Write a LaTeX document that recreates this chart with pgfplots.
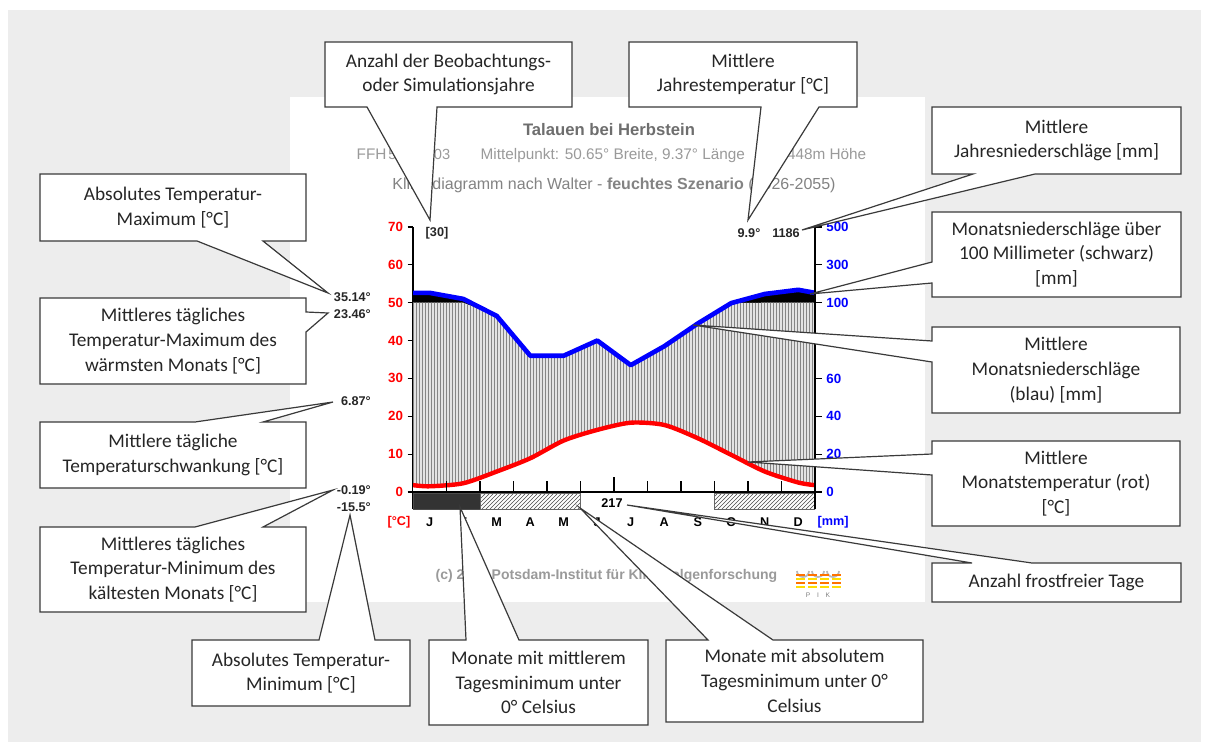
\documentclass[border=0pt]{standalone}
\usepackage{pgfplots}
\pgfplotsset{compat=1.18}
\usetikzlibrary{patterns}
\usepackage{pgfplotstable}
\usepackage{fontspec}
\setmainfont{Carlito}
\newfontfamily\arialfont{Liberation Sans}
\definecolor{bgray}{HTML}{EDEDED}
\definecolor{boxline}{HTML}{3A3A3A}
\definecolor{txt}{HTML}{262626}
\definecolor{ttl}{HTML}{6E6E6E}
\definecolor{sub}{HTML}{9A9A9A}
\pgfdeclarepatternformonly{vstripes}{\pgfpointorigin}{\pgfpoint{2.5pt}{2.5pt}}{\pgfpoint{2.5pt}{2.5pt}}{\pgfpathrectangle{\pgfpointorigin}{\pgfpoint{0.85pt}{2.5pt}}\pgfusepath{fill}}

% x: month position (0 = start of Jan, 12 = end of Dec), T: mean temperature [C], P: precipitation [mm]
\pgfplotstableread{
x T P
0 1.8 152
0.5 1.5 152
1.5 2.3 120
2.5 5.4 93
3.5 8.9 72
4.5 13.6 72
5.5 16.4 80
6.5 18.3 67
7.5 17.7 77
8.5 14.2 89
9.5 9.8 99.8
10.5 5.4 146
11.5 2.5 168
12 1.8 152
}\climate

\tikzset{
 callout/.style={fill=white, draw=boxline, line width=0.9pt, line join=miter},
 boxtxt/.style={align=center, text=txt, font=\fontsize{14.5}{18.5}\selectfont, inner sep=0pt},
 lab/.style={font=\arialfont\bfseries\fontsize{9.5}{10}\selectfont, text=black!85, inner sep=0pt},
}

\begin{document}
\begin{tikzpicture}[x=0.75pt,y=0.75pt]
\useasboundingbox (0,0) rectangle (1209,751);
\begin{scope}[yshift=563.25pt,y=-0.75pt]
 \fill[white] (0,0) rectangle (1209,751);
 \fill[bgray] (8,10) rectangle (1201,742);
 \fill[white] (290,97) rectangle (925,602);
 \node[font=\arialfont\bfseries\fontsize{12.5}{14}\selectfont, text=ttl] at (609,130) {Talauen bei Herbstein};
 \node[font=\arialfont\fontsize{11.5}{13}\selectfont, text=sub, anchor=base west] at (352,160) {FFH};
 \node[font=\arialfont\fontsize{11}{13}\selectfont, text=sub, anchor=base east] at (455,160) {5421-303};
 \node[font=\arialfont\fontsize{11.5}{13}\selectfont, text=sub, anchor=base west] at (476,160) {Mittelpunkt: 50.65° Breite, 9.37° Länge};
 \node[font=\arialfont\fontsize{11.5}{13}\selectfont, text=sub, anchor=base east] at (871,160) {448m Höhe};
 \node[font=\arialfont\fontsize{12}{13}\selectfont, text=sub!85!black] at (614,185) {Klimadiagramm nach Walter - \textbf{feuchtes Szenario} (2026-2055)};
 \node[font=\arialfont\bfseries\fontsize{10.5}{12}\selectfont, text=sub, anchor=west] at (431,576) {(c) 2012 Potsdam-Institut für Klimafolgenforschung};
 % logo
 \foreach \cx in {803,818,833} {\draw[gray!55, line width=1.3pt] (\cx-6,571) arc (180:0:6);}
 \foreach \yy/\cc in {575/orange!90!red,579/yellow!80!orange,583/orange!90!red,587/yellow!80!orange} {\draw[\cc, line width=1.8pt, dash pattern=on 7pt off 2pt] (796,\yy) -- (841,\yy);}
 \node[font=\arialfont\fontsize{5}{6}\selectfont, text=gray] at (818,595) {P\quad I\quad K};
\end{scope}

\begin{axis}[at={(309.75pt,181.5pt)}, anchor=south west, scale only axis, width=301.5pt, height=211.5pt,
 xmin=0, xmax=12, ymin=-4.5, ymax=70,
 axis x line=none, axis y line*=left, axis line style={black, line width=1pt, -},
 ytick={0,10,...,70}, tick align=outside, major tick length=4pt, tick style={black, line width=0.8pt},
 yticklabel style={font=\arialfont\bfseries\fontsize{10}{11}\selectfont, text=red},
 /pgf/number format/assume math mode=true]
% precipitation above 100 mm (black)
\addplot[fill=black, draw=none] table[x=x, y expr={min(\thisrow{P}/2, 50+(\thisrow{P}-100)/20)}]{\climate} \closedcycle;
% humid region (grey, hatched), capped at 100 mm
\addplot[fill=gray!22, draw=none] table[x=x, y expr={min(\thisrow{P}/2, 50)}]{\climate} \closedcycle;
\addplot[pattern=vstripes, pattern color=black!48, draw=none] table[x=x, y expr={min(\thisrow{P}/2, 50)}]{\climate} \closedcycle;
% below temperature curve: white
\addplot[fill=white, draw=none, smooth, tension=0.45] table[x=x,y=T]{\climate} \closedcycle;
\draw[black, line width=0.8pt] (axis cs:0,0) -- (axis cs:12,0);
\addplot[fill=black!80, draw=black!70] coordinates {(0,-0.4) (2,-0.4) (2,-4.5) (0,-4.5) (0,-0.4)};
\addplot[pattern=north east lines, pattern color=black!70, draw=black!60] coordinates {(2,-0.4) (5,-0.4) (5,-4.5) (2,-4.5) (2,-0.4)};
\addplot[pattern=north east lines, pattern color=black!70, draw=black!60] coordinates {(9,-0.4) (12,-0.4) (12,-4.5) (9,-4.5) (9,-0.4)};
\addplot[red, line width=3.3pt, smooth, tension=0.45] table[x=x,y=T]{\climate};
\addplot[blue, line width=3.5pt, line join=round] table[x=x, y expr={min(\thisrow{P}/2, 50+(\thisrow{P}-100)/20)}]{\climate};
\end{axis}

\begin{axis}[at={(309.75pt,181.5pt)}, anchor=south west, scale only axis, width=301.5pt, height=211.5pt,
 xmin=0, xmax=12, ymin=-4.5, ymax=70,
 axis x line=none, axis y line*=right, axis line style={black, line width=1pt, -},
 ytick={0,10,20,30,40,50,60,70}, yticklabels={0,20,40,60,80,100,300,500},
 tick align=outside, major tick length=5pt, tick style={black, line width=0.8pt},
 yticklabel style={font=\arialfont\bfseries\fontsize{10}{11}\selectfont, text=blue}]
\addplot[draw=none] coordinates {(0,0) (12,70)};
\end{axis}

\begin{scope}[yshift=563.25pt,y=-0.75pt]
 \foreach \i in {1,...,11} {\draw[black, line width=0.8pt] (413+33.5*\i,492) -- ++(0,-11);}
 \draw[black, line width=0.8pt] (413+33.5*6,492) -- ++(0,-15);
 \foreach \m [count=\i] in {J,F,M,A,M,J,J,A,S,O,N,D} {\node[lab, text=black] at (413+33.5*\i-16.75,522) {\m};}
 \node[lab, text=red] at (399,522) {[°C]};
 \node[lab, text=blue] at (833,522) {[mm]};
 \node[lab, text=black] at (612,503) {217};
 % callouts
 \draw[callout] (325,42) -- (572,42) -- (572,107) -- (437,107) -- (430,220) -- (367,107) -- (325,107) -- cycle;
 \node[boxtxt] at (448.5,74.5) {Anzahl der Beobachtungs-\\oder Simulationsjahre};
 \draw[callout] (629,42) -- (857,42) -- (857,107) -- (819,107) -- (748,220) -- (761,107) -- (629,107) -- cycle;
 \node[boxtxt] at (743,74.5) {Mittlere\\Jahrestemperatur [°C]};
 \draw[callout] (932,107) -- (1181,107) -- (1181,174) -- (1035,174) -- (802,230) -- (973,174) -- (932,174) -- cycle;
 \node[boxtxt] at (1056.5,140.5) {Mittlere\\Jahresniederschläge [mm]};
 \draw[callout] (932,212) -- (1181,212) -- (1181,297) -- (932,297) -- (932,283) -- (810,294) -- (932,262) -- cycle;
 \node[boxtxt] at (1056.5,254.5) {Monatsniederschläge über\\100 Millimeter (schwarz)\\{}[mm]};
 \draw[callout] (932,327) -- (1180,327) -- (1180,413) -- (932,413) -- (932,362) -- (693,325) -- (932,341) -- cycle;
 \node[boxtxt] at (1056,370) {Mittlere\\Monatsniederschläge\\(blau) [mm]};
 \draw[callout] (932,441) -- (1180,441) -- (1180,526) -- (932,526) -- (932,475) -- (748,462) -- (932,454) -- cycle;
 \node[boxtxt] at (1056,483.5) {Mittlere\\Monatstemperatur (rot)\\{}[°C]};
 \draw[callout] (932,563) -- (972,563) -- (627,505) -- (1032,563) -- (1181,563) -- (1181,602) -- (932,602) -- cycle;
 \node[boxtxt] at (1056.5,582.5) {Anzahl frostfreier Tage};
 \draw[callout] (666,640) -- (708,640) -- (580,508) -- (773,640) -- (923,640) -- (923,722) -- (666,722) -- cycle;
 \node[boxtxt] at (794.5,681) {Monate mit absolutem\\Tagesminimum unter 0°\\Celsius};
 \draw[callout] (429,640) -- (466,640) -- (460,507) -- (519,640) -- (648,640) -- (648,725) -- (429,725) -- cycle;
 \node[boxtxt] at (538.5,682.5) {Monate mit mittlerem\\Tagesminimum unter\\0° Celsius};
 \draw[callout] (192,640) -- (319,640) -- (350,515) -- (375,640) -- (410,640) -- (410,706) -- (192,706) -- cycle;
 \node[boxtxt] at (301,673) {Absolutes Temperatur-\\Minimum [°C]};
 \draw[callout] (40,527) -- (195,527) -- (333,490) -- (263,527) -- (306,527) -- (306,612) -- (40,612) -- cycle;
 \node[boxtxt] at (173,569.5) {Mittleres tägliches\\Temperatur-Minimum des\\kältesten Monats [°C]};
 \draw[callout] (40,422) -- (195,422) -- (333,402) -- (263,422) -- (306,422) -- (306,488) -- (40,488) -- cycle;
 \node[boxtxt] at (173,455) {Mittlere tägliche\\Temperaturschwankung [°C]};
 \draw[callout] (40,298) -- (306,298) -- (306,312) -- (328,313) -- (306,332) -- (306,384) -- (40,384) -- cycle;
 \node[boxtxt] at (173,341) {Mittleres tägliches\\Temperatur-Maximum des\\wärmsten Monats [°C]};
 \draw[callout] (40,174) -- (306,174) -- (306,241) -- (263,241) -- (328,293) -- (197,241) -- (40,241) -- cycle;
 \node[boxtxt] at (173,207.5) {Absolutes Temperatur-\\Maximum [°C]};
 % values
 \node[lab] at (437,233) {[30]};
 \node[lab] at (749,233) {9.9°};
 \node[lab] at (786,233) {1186};
 \node[lab, anchor=east] at (371,297) {35.14°};
 \node[lab, anchor=east] at (371,314) {23.46°};
 \node[lab, anchor=east] at (371,401) {6.87°};
 \node[lab, anchor=east] at (371,490) {-0.19°};
 \node[lab, anchor=east] at (371,507) {-15.5°};
\end{scope}
\end{tikzpicture}
\end{document}
